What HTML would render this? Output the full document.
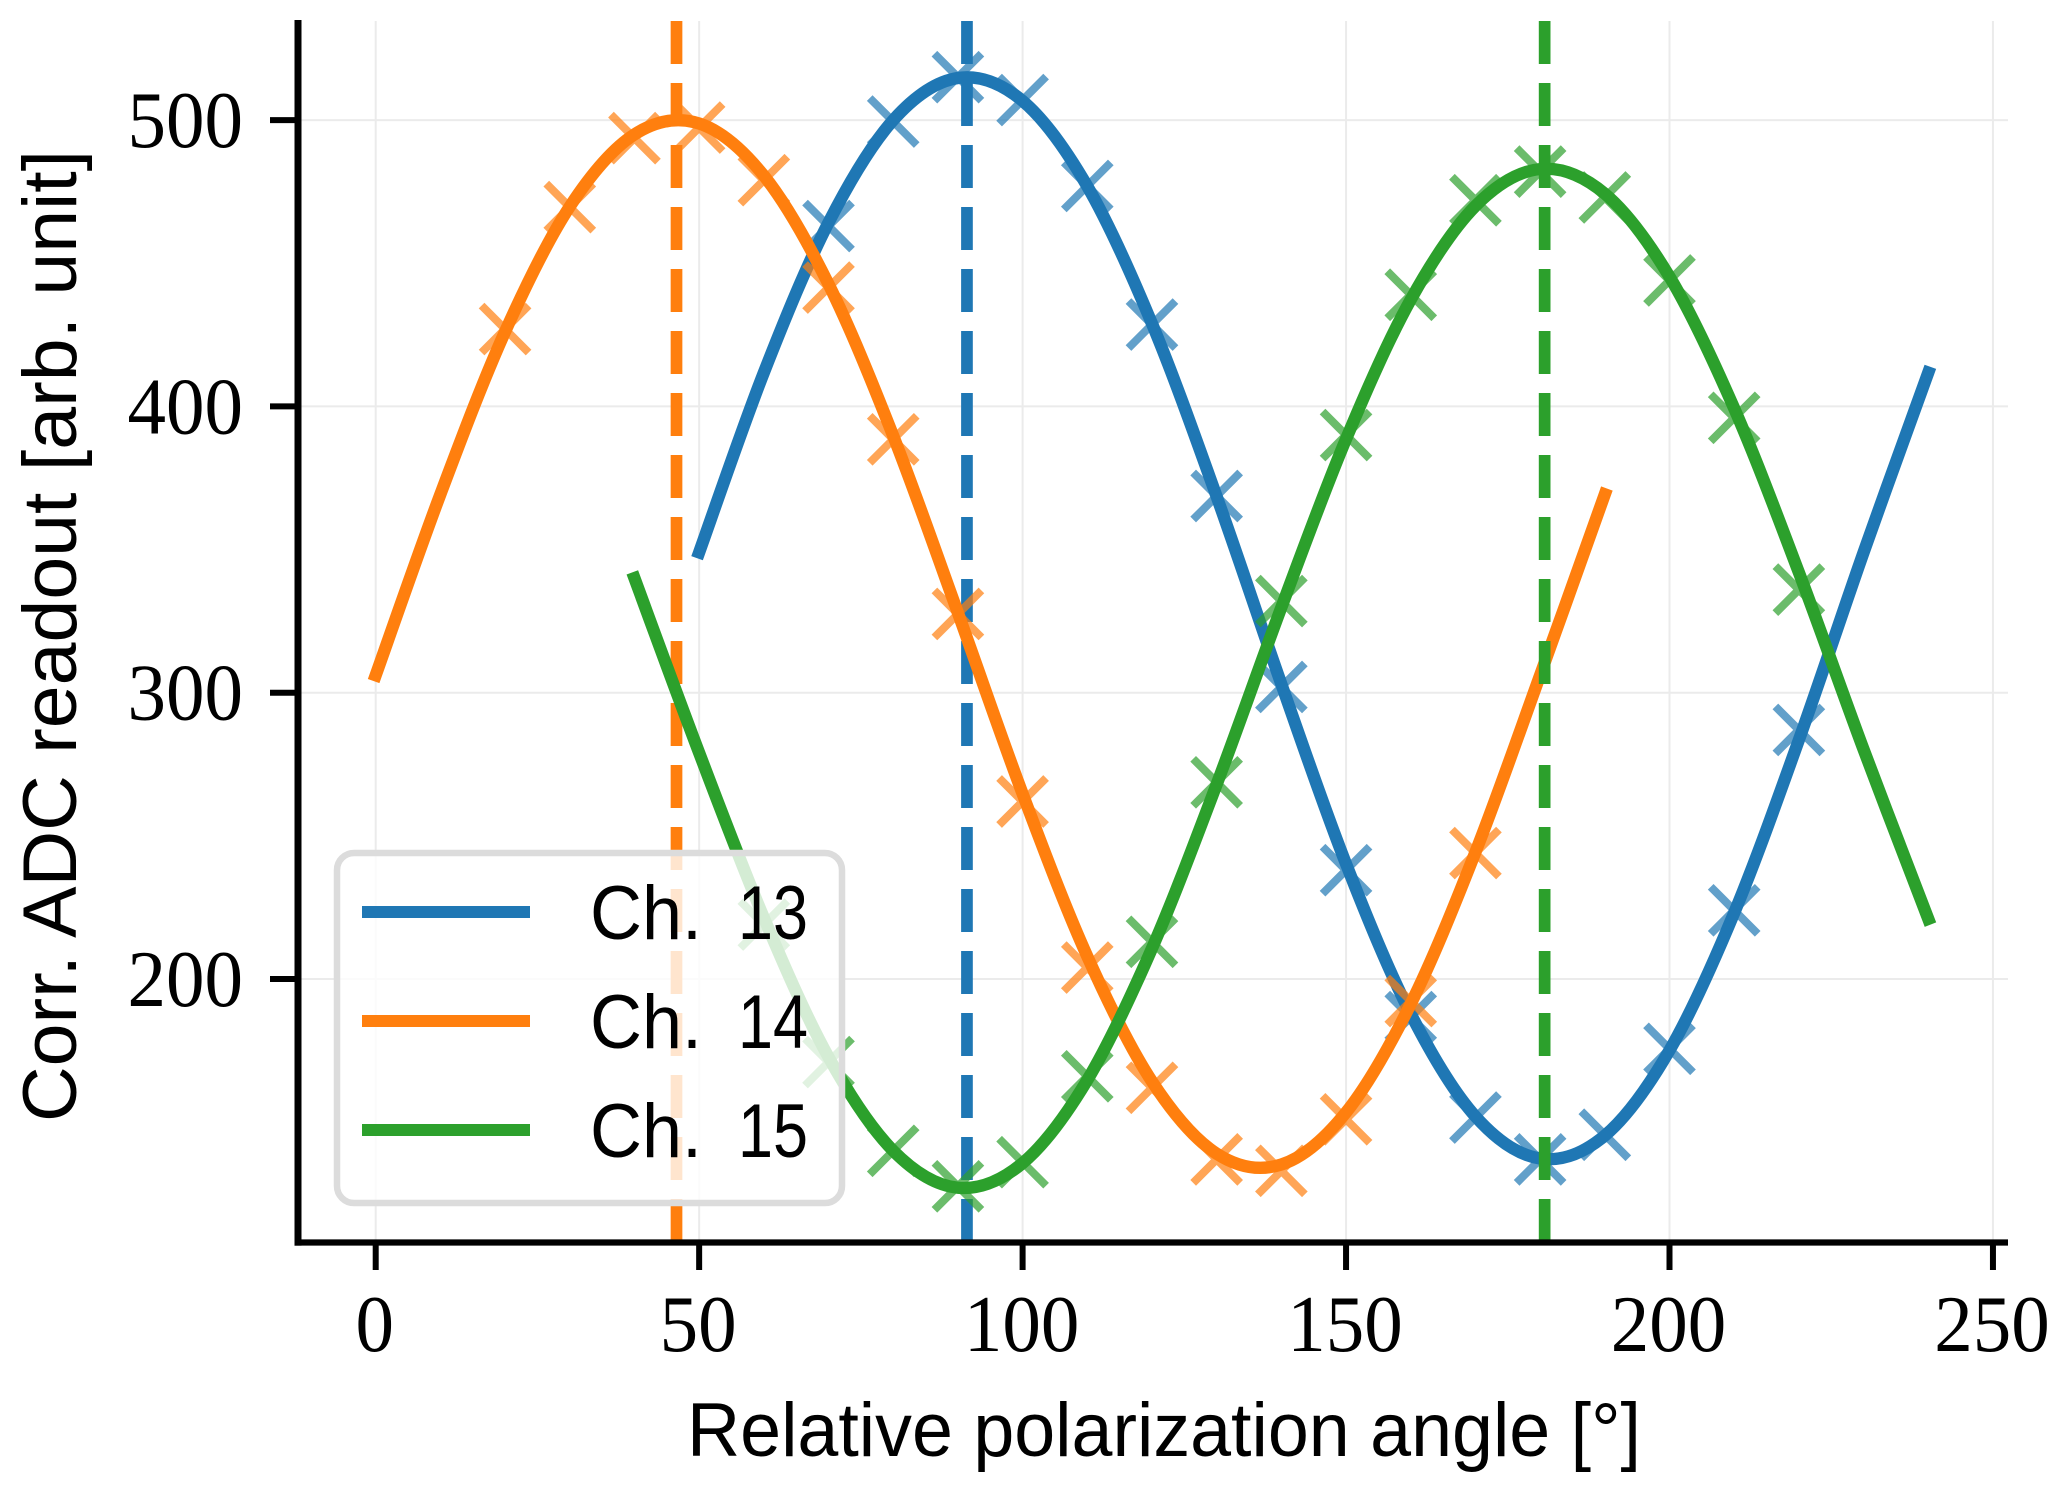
<!DOCTYPE html>
<html lang="en">
<head>
<meta charset="utf-8">
<title>Corrected ADC readout vs polarization angle</title>
<style>
html,body{margin:0;padding:0;background:#fff;width:2067px;height:1494px;overflow:hidden}
svg{display:block}
.tick{font-family:"Liberation Serif",serif;font-size:81px;fill:#000}
.lab{font-family:"Liberation Sans",sans-serif;font-size:76px;fill:#000}
</style>
</head>
<body>
<svg id="chart" xmlns="http://www.w3.org/2000/svg" width="2067" height="1494" viewBox="0 0 2067 1494">
<defs><clipPath id="plot-clip"><rect x="298" y="21" width="1710" height="1221"/></clipPath></defs>
<rect x="0" y="0" width="2067" height="1494" fill="#fff"/>
<g id="grid"></g>
<g id="series" clip-path="url(#plot-clip)"></g>
<g id="legend">
  <rect x="337" y="853" width="505" height="350" rx="17" ry="17" fill="#fff" fill-opacity="0.8" stroke="#dcdcdc" stroke-width="6.5"/>
  <line x1="362" x2="530" y1="912" y2="912" stroke="#1f77b4" stroke-width="12"/>
  <line x1="362" x2="530" y1="1021" y2="1021" stroke="#ff7f0e" stroke-width="12"/>
  <line x1="362" x2="530" y1="1130" y2="1130" stroke="#2ca02c" stroke-width="12"/>
  <text class="lab" y="939"><tspan x="590" textLength="112" lengthAdjust="spacingAndGlyphs">Ch.</tspan><tspan x="738" textLength="70" lengthAdjust="spacingAndGlyphs">13</tspan></text>
  <text class="lab" y="1048"><tspan x="590" textLength="112" lengthAdjust="spacingAndGlyphs">Ch.</tspan><tspan x="738" textLength="70" lengthAdjust="spacingAndGlyphs">14</tspan></text>
  <text class="lab" y="1157"><tspan x="590" textLength="112" lengthAdjust="spacingAndGlyphs">Ch.</tspan><tspan x="738" textLength="70" lengthAdjust="spacingAndGlyphs">15</tspan></text>
</g>
<g id="axes">
  <line x1="298" x2="298" y1="20" y2="1245.6" stroke="#000" stroke-width="7"/>
  <line x1="294.5" x2="2008" y1="1242.5" y2="1242.5" stroke="#000" stroke-width="6.3"/>
</g>
<text class="lab" x="687" y="1456" textLength="954" lengthAdjust="spacingAndGlyphs">Relative polarization angle [°]</text>
<text class="lab" x="0" y="0" transform="translate(76 1122) rotate(-90)" textLength="972" lengthAdjust="spacingAndGlyphs">Corr. ADC readout [arb. unit]</text>
</svg>
<script>
// ---- chart data ----
const xTicks = [0, 50, 100, 150, 200, 250];
const yTicks = [200, 300, 400, 500];

const fitAngles13 = [50,60,70,80,90,100,110,120,130,140,150,160,170,180,190,200,210,220,230,240];
const fitValues13 = [349,411.8,464.2,500,514.7,506.7,476.9,428.9,368.5,303,240.2,187.8,152,137.3,145.3,175.1,223.1,283.5,349,411.8];
const fitAngles14 = [0,10,20,30,40,50,60,70,80,90,100,110,120,130,140,150,160,170,180,190];
const fitValues14 = [306.1,369.3,426.1,469.8,495,498.8,480.6,442.7,389.7,327.9,264.7,207.9,164.2,139,135.2,153.4,191.3,244.3,306.1,369.3];
const fitAngles15 = [40,50,60,70,80,90,100,110,120,130,140,150,160,170,180,190,200,210,220,230,240];
const fitValues15 = [340,279,221.4,172.7,140,127.1,135.7,164.7,210.7,268,329.8,388.6,437.3,470,482.9,474.3,445.3,399.3,342,280.2,221];

const pointAngles13 = [70,80,90,100,110,120,130,140,150,160,170,180,190,200,210,220];
const pointValues13 = [463,499.5,515,507,477,428.6,368.7,302,238,186.7,151.6,137,145.6,175.6,224,287];
const pointAngles14 = [20,30,40,50,60,70,80,90,100,110,120,130,140,150,160,170];
const pointValues14 = [427,469.6,493.7,497.4,479,441.5,388.5,327.5,262,204,162,137,133,151,192.3,244];
const pointAngles15 = [60,70,80,90,100,110,120,130,140,150,160,170,180,190,200,210,220];
const pointValues15 = [219,171,140,127.6,136,166,213,268.7,332,390,439,472,482,473,444,396,336];

const peak13 = 91.4;
const peak14 = 46.5;
const peak15 = 180.7;

const color13 = '#1f77b4';
const color14 = '#ff7f0e';
const color15 = '#2ca02c';

// ---- axis functions ----
function xPos(v){ return 375.7 + 6.469 * v; }
function yPos(v){ return 979 - (v - 200) * 2.863; }

const NS = 'http://www.w3.org/2000/svg';
const gridG = document.getElementById('grid');
const axesG = document.getElementById('axes');
const seriesG = document.getElementById('series');

function make(tag, parent, attrs){
  const el = document.createElementNS(NS, tag);
  for (const k in attrs) el.setAttribute(k, attrs[k]);
  parent.appendChild(el);
  return el;
}

xTicks.forEach(function(t){
  const gl = make('line', gridG, {x1:xPos(t), x2:xPos(t), y1:21, y2:1242, stroke:'#ebebeb', 'stroke-width':2});
  
  
  const tk = make('line', axesG, {x1:xPos(t), x2:xPos(t), y1:1242, y2:1270, stroke:'#000', 'stroke-width':6});
  
  
  const s = String(t);
  const lb = make('text', axesG, {x:xPos(t) - 1, y:1351, 'text-anchor':'middle', 'class':'tick', textLength:s.length * 38.5, lengthAdjust:'spacingAndGlyphs'});
  
  
  lb.textContent = s;
});

yTicks.forEach(function(t){
  const gl = make('line', gridG, {x1:298, x2:2008, y1:yPos(t), y2:yPos(t), stroke:'#ebebeb', 'stroke-width':2});
  
  
  const tk = make('line', axesG, {x1:270, x2:298, y1:yPos(t), y2:yPos(t), stroke:'#000', 'stroke-width':6});
  
  
  const s = String(t);
  const lb = make('text', axesG, {x:243, y:yPos(t) + 27, 'text-anchor':'end', 'class':'tick', textLength:s.length * 38.5, lengthAdjust:'spacingAndGlyphs'});
  
  
  lb.textContent = s;
});

function splinePath(angles, values){
  const pts = angles.map(function(a, i){ return [xPos(a), yPos(values[i])]; });
  let d = 'M' + pts[0][0].toFixed(2) + ' ' + pts[0][1].toFixed(2);
  for (let i = 0; i < pts.length - 1; i++){
    const p0 = pts[Math.max(i - 1, 0)], p1 = pts[i], p2 = pts[i + 1], p3 = pts[Math.min(i + 2, pts.length - 1)];
    const c1x = p1[0] + (p2[0] - p0[0]) / 6, c1y = p1[1] + (p2[1] - p0[1]) / 6;
    const c2x = p2[0] - (p3[0] - p1[0]) / 6, c2y = p2[1] - (p3[1] - p1[1]) / 6;
    d += 'C' + c1x.toFixed(2) + ' ' + c1y.toFixed(2) + ' ' + c2x.toFixed(2) + ' ' + c2y.toFixed(2) + ' ' + p2[0].toFixed(2) + ' ' + p2[1].toFixed(2);
  }
  return d;
}

function drawChannel(key, color, pAngles, pValues, fAngles, fValues, peak){
  const R = 23.5;
  pAngles.forEach(function(a, i){
    const cx = xPos(a), cy = yPos(pValues[i]);
    const m = make('path', seriesG, {d:'M' + (cx - R) + ' ' + (cy - R) + 'L' + (cx + R) + ' ' + (cy + R) + 'M' + (cx - R) + ' ' + (cy + R) + 'L' + (cx + R) + ' ' + (cy - R), fill:'none', stroke:color, 'stroke-width':8, 'stroke-opacity':0.7});
    
    
  });
  const f = make('path', seriesG, {d:splinePath(fAngles, fValues), fill:'none', stroke:color, 'stroke-width':12.3, 'stroke-linecap':'square', 'stroke-linejoin':'round'});
  
  
  const v = make('line', seriesG, {x1:xPos(peak), x2:xPos(peak), y1:1242, y2:21, stroke:color, 'stroke-width':11.7, 'stroke-dasharray':'43 19'});
  
  
}

drawChannel('ch13', color13, pointAngles13, pointValues13, fitAngles13, fitValues13, peak13);
drawChannel('ch14', color14, pointAngles14, pointValues14, fitAngles14, fitValues14, peak14);
drawChannel('ch15', color15, pointAngles15, pointValues15, fitAngles15, fitValues15, peak15);
</script>
</body>
</html>
